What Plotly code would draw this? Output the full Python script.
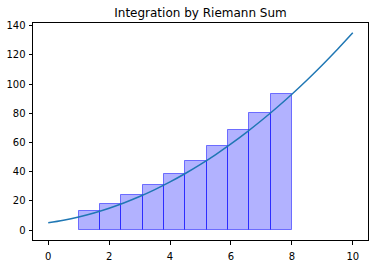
import plotly.graph_objects as go

# curve samples
curve_x = [0, 0.5, 1, 1.5, 2, 2.5, 3, 3.5, 4, 4.5, 5, 5.5, 6, 6.5, 7, 7.5, 8, 8.5, 9, 9.5, 10]
curve_y = [5, 6.75, 9, 11.75, 15, 18.75, 23, 27.75, 33, 38.75, 45, 51.75, 59, 66.75, 75, 83.75, 93, 102.75, 113, 123.75, 135]

# Riemann bars: left edges and heights
bar_left = [1.0, 1.7, 2.4, 3.1, 3.8, 4.5, 5.2, 5.9, 6.6, 7.3]
bar_height = [12.99, 17.96, 23.91, 30.84, 38.75, 47.64, 57.51, 68.36, 80.19, 93.0]
bar_width = 0.7

x_ticks = [0, 2, 4, 6, 8, 10]
y_ticks = [0, 20, 40, 60, 80, 100, 120, 140]

fig = go.Figure()
fig.add_trace(go.Bar(
    x=bar_left, y=bar_height, width=[bar_width] * len(bar_left), offset=0,
    marker=dict(color="rgba(0,0,255,0.3)", line=dict(color="rgba(0,0,255,0.5)", width=1)),
    showlegend=False,
))
fig.add_trace(go.Scatter(
    x=curve_x, y=curve_y, mode="lines", line=dict(color="#1f77b4", width=1.5, shape="spline"),
    showlegend=False,
))

axis_common = dict(
    showgrid=False, zeroline=False, showline=True, linecolor="black", linewidth=1,
    mirror=True, ticks="outside", ticklen=3.5, tickwidth=0.8, tickcolor="black",
    tickfont=dict(family="DejaVu Sans", size=10, color="black"), automargin=False,
)
fig.update_layout(
    width=375, height=264,
    margin=dict(l=33, r=7, t=23, b=24, autoexpand=False),
    paper_bgcolor="white", plot_bgcolor="white",
    title=dict(text="Integration by Riemann Sum", x=0.5, xanchor="center",
               xref="paper", y=1 - 13 / 264, yanchor="middle",
               font=dict(family="DejaVu Sans", size=12, color="black")),
    xaxis=dict(range=[-0.5, 10.5], tickvals=x_ticks, ticklabelstandoff=3, **axis_common),
    yaxis=dict(range=[-6.75, 141.75], tickvals=y_ticks, ticklabelstandoff=1, **axis_common),
    bargap=0,
)
fig.write_html("out.html")
